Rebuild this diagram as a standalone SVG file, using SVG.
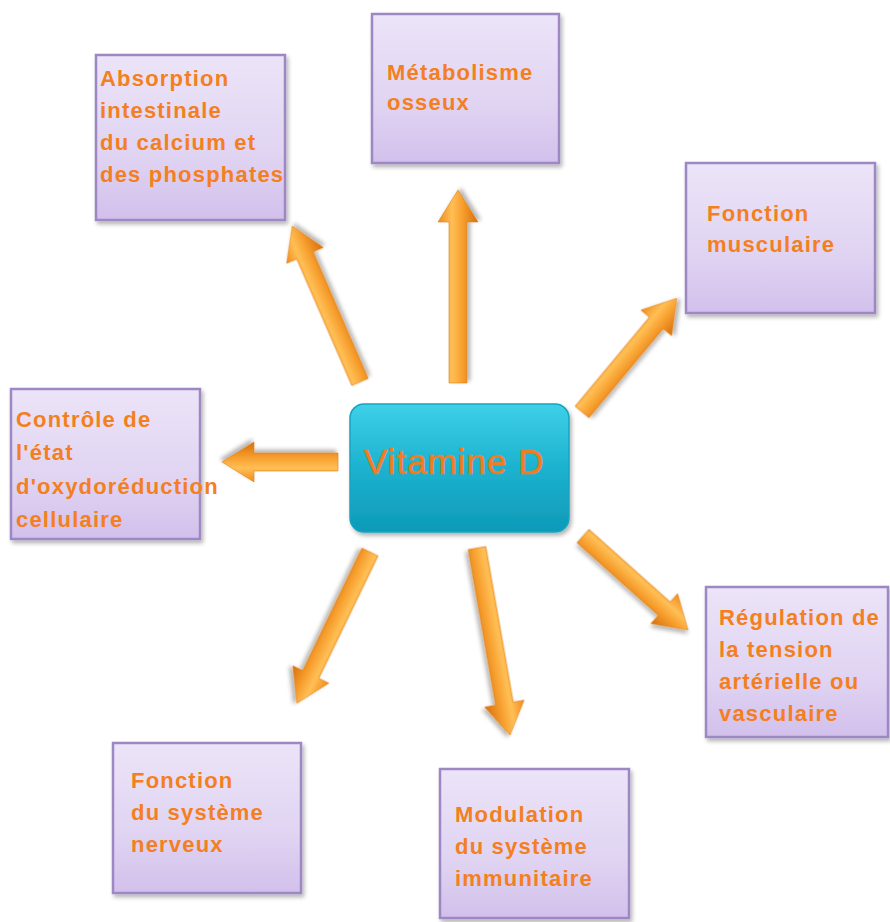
<svg xmlns="http://www.w3.org/2000/svg" width="890" height="922" viewBox="0 0 890 922">
<defs>
<linearGradient id="boxg" x1="0" y1="0" x2="0" y2="1">
<stop offset="0" stop-color="#ece4f8"/>
<stop offset="0.6" stop-color="#e0d4f2"/>
<stop offset="1" stop-color="#d2c0ec"/>
</linearGradient>
<linearGradient id="cg" x1="0" y1="0" x2="0" y2="1">
<stop offset="0" stop-color="#3fd0e8"/>
<stop offset="0.5" stop-color="#1cb2cf"/>
<stop offset="1" stop-color="#0e9ab8"/>
</linearGradient>
<linearGradient id="ag" x1="0" y1="0" x2="0" y2="1">
<stop offset="0" stop-color="#f08a1c"/>
<stop offset="0.35" stop-color="#ffbf55"/>
<stop offset="0.6" stop-color="#f7a030"/>
<stop offset="1" stop-color="#d86e0a"/>
</linearGradient>
<filter id="sh" x="-10%" y="-10%" width="125%" height="125%">
<feGaussianBlur in="SourceAlpha" stdDeviation="2"/>
<feOffset dx="2" dy="3"/>
<feComponentTransfer><feFuncA type="linear" slope="0.3"/></feComponentTransfer>
<feMerge><feMergeNode/><feMergeNode in="SourceGraphic"/></feMerge>
</filter>
</defs>
<style>
.box{fill:url(#boxg);stroke:#9d88c4;stroke-width:2.5;filter:url(#sh)}
.t{font-family:"Liberation Sans",Arial,sans-serif;font-weight:bold;font-size:22px;letter-spacing:1.2px;fill:#f47f20}
.arr{fill:url(#ag);stroke:#e07f18;stroke-width:0.6;filter:url(#sh)}
</style>
<rect width="890" height="922" fill="#ffffff"/>
<g id="connectors">
<path class="arr" transform="translate(360,382) rotate(-113.5)" d="M0,-9 L138,-9 L138,-20 L170,0 L138,20 L138,9 L0,9 Z"/>
<path class="arr" transform="translate(458,383) rotate(-90)" d="M0,-9 L161,-9 L161,-20 L193,0 L161,20 L161,9 L0,9 Z"/>
<path class="arr" transform="translate(582,412) rotate(-50.2)" d="M0,-9 L116,-9 L116,-20 L148,0 L116,20 L116,9 L0,9 Z"/>
<path class="arr" transform="translate(338,462) rotate(180)" d="M0,-9 L84,-9 L84,-20 L116,0 L84,20 L84,9 L0,9 Z"/>
<path class="arr" transform="translate(583,536) rotate(41.8)" d="M0,-9 L109,-9 L109,-20 L141,0 L109,20 L109,9 L0,9 Z"/>
<path class="arr" transform="translate(370,552) rotate(115.8)" d="M0,-9 L136,-9 L136,-20 L168,0 L136,20 L136,9 L0,9 Z"/>
<path class="arr" transform="translate(477,548) rotate(80)" d="M0,-9 L158,-9 L158,-20 L190,0 L158,20 L158,9 L0,9 Z"/>
</g>
<g id="center">
<rect x="350" y="404" width="219" height="128" rx="14" fill="url(#cg)" stroke="#17a4c0" stroke-width="1.5" filter="url(#sh)"/>
<text x="364" y="474" font-family="Liberation Sans,Arial,sans-serif" font-size="35" letter-spacing="1" fill="#f27c22" stroke="#f27c22" stroke-width="0.6">Vitamine D</text>
</g>
<g id="absorption">
<rect class="box" x="96" y="55" width="189" height="165"/>
<text class="t" x="100" y="86">Absorption</text>
<text class="t" x="100" y="118">intestinale</text>
<text class="t" x="100" y="150">du calcium et</text>
<text class="t" x="100" y="182">des phosphates</text>
</g>
<g id="metabolisme">
<rect class="box" x="372" y="14" width="187" height="149"/>
<text class="t" x="387" y="80">Métabolisme</text>
<text class="t" x="387" y="110">osseux</text>
</g>
<g id="musculaire">
<rect class="box" x="686" y="163" width="189" height="150"/>
<text class="t" x="707" y="221">Fonction</text>
<text class="t" x="707" y="252">musculaire</text>
</g>
<g id="controle">
<rect class="box" x="11" y="389" width="189" height="150"/>
<text class="t" x="16" y="427">Contrôle de</text>
<text class="t" x="16" y="460">l'état</text>
<text class="t" x="16" y="494">d'oxydoréduction</text>
<text class="t" x="16" y="527">cellulaire</text>
</g>
<g id="regulation">
<rect class="box" x="706" y="587" width="182" height="150"/>
<text class="t" x="719" y="625">Régulation de</text>
<text class="t" x="719" y="657">la tension</text>
<text class="t" x="719" y="689">artérielle ou</text>
<text class="t" x="719" y="721">vasculaire</text>
</g>
<g id="nerveux">
<rect class="box" x="113" y="743" width="188" height="150"/>
<text class="t" x="131" y="788">Fonction</text>
<text class="t" x="131" y="820">du système</text>
<text class="t" x="131" y="852">nerveux</text>
</g>
<g id="modulation">
<rect class="box" x="440" y="769" width="189" height="149"/>
<text class="t" x="455" y="822">Modulation</text>
<text class="t" x="455" y="854">du système</text>
<text class="t" x="455" y="886">immunitaire</text>
</g>
</svg>
